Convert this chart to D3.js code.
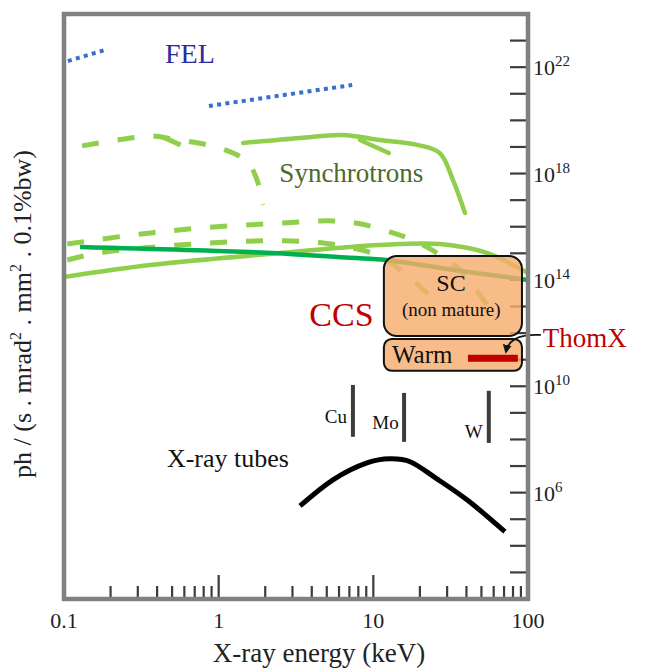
<!DOCTYPE html>
<html><head><meta charset="utf-8">
<script src="https://cdn.jsdelivr.net/npm/d3@7"></script>
<style>
html,body{margin:0;padding:0;background:#fff;}
svg text{font-family:"Liberation Serif","DejaVu Serif",serif;}
</style></head>
<body><svg id="c" width="646" height="670"></svg>
<script>
// ---- data: energy in keV, brightness as log10 exponent ----
const xTickLabels = ["0.1","1","10","100"];
const xTickValues = [0.1, 1, 10, 100];
const yTickExponents = [22, 18, 14, 10, 6];

const fel1E = [0.106, 0.192];
const fel1B = [22.23, 22.68];
const fel2E = [0.865, 7.3];
const fel2B = [20.54, 21.33];

const synTopDashE = [0.131, 0.220, 0.376, 0.499, 0.840, 1.24, 1.55, 1.77, 1.93];
const synTopDashB = [19.04, 19.26, 19.41, 19.30, 19.08, 18.77, 18.40, 17.76, 16.82];
const synHookE = [0.45, 0.605];
const synHookB = [19.34, 19.0];

const synTopSolidE = [1.44, 3.36, 6.36, 11.0, 19.2, 26.9, 32.7, 39.1];
const synTopSolidB = [19.15, 19.34, 19.45, 19.26, 19.08, 18.77, 17.76, 16.52];
const synBranchE = [8.19, 12.6];
const synBranchB = [19.26, 18.77];

const synDash1E = [0.105, 0.279, 0.757, 2.60, 5.48, 8.19, 13.4, 19.2, 26.9, 37.4, 54.2];
const synDash1B = [15.35, 15.69, 15.95, 16.14, 16.22, 16.11, 15.77, 15.43, 14.94, 14.30, 13.06];
const synDash2E = [0.105, 0.171, 0.879, 2.60, 4.72, 7.38, 11.0, 14.9, 22.2, 26.9];
const synDash2B = [14.75, 15.02, 15.39, 15.47, 15.39, 15.20, 14.90, 14.38, 13.51, 13.06];
const synSolidLowE = [0.1, 0.360, 2.60, 7.06, 14.9, 26.9, 54.2, 79.8, 100];
const synSolidLowB = [14.11, 14.56, 15.02, 15.24, 15.35, 15.35, 15.02, 14.56, 14.26];

const darkGreenE = [0.127, 2.05, 7.06, 12.1, 32.7, 88, 100];
const darkGreenB = [15.24, 15.02, 14.83, 14.75, 14.38, 14.04, 14.0];

const tubeE = [3.36, 5.48, 9.10, 12.8, 17.3, 24.3, 40.3, 70.9];
const tubeB = [5.50, 6.48, 7.12, 7.27, 7.16, 6.62, 5.73, 4.53];

const elementNames = ["Cu", "Mo", "W"];
const elementE = [7.38, 15.8, 55.8];
const elementTop = [10.05, 9.75, 9.83];
const elementBottom = [8.10, 7.91, 7.87];

const boxNames = ["SC", "Warm"];
const boxE0 = [11.7, 11.7];
const boxE1 = [91.4, 91.4];
const boxTop = [14.90, 11.78];
const boxBottom = [11.89, 10.58];

const thomxE = [40.9, 86.0];
const thomxB = 11.05;

// ---- layout ----
const svg = d3.select("#c");
const L = 64, R = 528, T = 14, B = 599;
const x = d3.scaleLog().domain([0.1, 100]).range([L, R]);
const y = d3.scaleLog().domain([1e2, 1e24]).range([B, T]);
const yl = v => y(Math.pow(10, v));
const pts = (E, Bv) => E.map((e, i) => [x(e), yl(Bv[i])]);
const line = d3.line().curve(d3.curveCatmullRom.alpha(0.5));
const smooth = d3.line().curve(d3.curveNatural);

const LIGHT = "#8fcf4c", DARK = "#00b050", BLUE = "#3a6fd2", RED = "#c00000";

// axis ticks (behind boxes)
const gt = svg.append("g").attr("stroke", "#3c3c3c").attr("stroke-width", 2.2);
for (let e = 3; e <= 23; e++) {
  gt.append("line").attr("x1", R - 18).attr("x2", R).attr("y1", yl(e)).attr("y2", yl(e));
}
for (let d = 0.1; d < 100; d *= 10) {
  for (let k = 2; k <= 10; k++) {
    const v = d * k;
    if (v >= 100) continue;
    const major = (k === 10);
    gt.append("line").attr("x1", x(v)).attr("x2", x(v)).attr("y1", B).attr("y2", B - (major ? 24 : 13));
  }
}

// FEL
[[fel1E, fel1B], [fel2E, fel2B]].forEach(([E, Bv]) => {
  svg.append("path").attr("d", line(pts(E, Bv))).attr("fill", "none")
    .attr("stroke", BLUE).attr("stroke-width", 4).attr("stroke-dasharray", "4,4.3");
});

// synchrotrons
const dashed = [[synTopDashE, synTopDashB], [synHookE, synHookB], [synDash1E, synDash1B], [synDash2E, synDash2B]];
dashed.forEach(([E, Bv]) => {
  svg.append("path").attr("d", line(pts(E, Bv))).attr("fill", "none")
    .attr("stroke", LIGHT).attr("stroke-width", 5).attr("stroke-dasharray", "17,19");
});
[[synTopSolidE, synTopSolidB], [synBranchE, synBranchB], [synSolidLowE, synSolidLowB]].forEach(([E, Bv]) => {
  svg.append("path").attr("d", line(pts(E, Bv))).attr("fill", "none")
    .attr("stroke", LIGHT).attr("stroke-width", 4.5).attr("stroke-linecap", "round");
});
svg.append("path").attr("d", line(pts(darkGreenE, darkGreenB))).attr("fill", "none")
  .attr("stroke", DARK).attr("stroke-width", 4.5);

// CCS boxes
boxNames.forEach((n, i) => {
  const x0 = x(boxE0[i]), x1 = x(boxE1[i]), y0 = yl(boxTop[i]), y1 = yl(boxBottom[i]);
  svg.append("rect").attr("x", x0).attr("y", y0).attr("width", x1 - x0).attr("height", y1 - y0)
    .attr("rx", i === 0 ? 13 : 8).attr("fill", "#f7ad6e").attr("fill-opacity", 0.82)
    .attr("stroke", "#111").attr("stroke-width", 2);
});
// ThomX bar
svg.append("line").attr("x1", x(thomxE[0])).attr("x2", x(thomxE[1]))
  .attr("y1", yl(thomxB)).attr("y2", yl(thomxB)).attr("stroke", RED).attr("stroke-width", 7);

// connector arrow
svg.append("defs").append("marker").attr("id", "ah").attr("viewBox", "0 0 10 10")
  .attr("refX", 8).attr("refY", 5).attr("markerWidth", 5).attr("markerHeight", 5)
  .attr("orient", "auto").append("path").attr("d", "M0,0 L10,5 L0,10 z").attr("fill", "#111");
const cs = [x(121), yl(11.93)], cc = [x(76), yl(12.0)], ce = [x(72), yl(11.29)];
svg.append("path").attr("d", `M${cs[0]},${cs[1]} Q${cc[0]},${cc[1]} ${ce[0]},${ce[1]}`)
  .attr("fill", "none").attr("stroke", "#111").attr("stroke-width", 1.8).attr("marker-end", "url(#ah)");

// element lines
elementNames.forEach((n, i) => {
  svg.append("line").attr("x1", x(elementE[i])).attr("x2", x(elementE[i]))
    .attr("y1", yl(elementTop[i])).attr("y2", yl(elementBottom[i]))
    .attr("stroke", "#3c3c3c").attr("stroke-width", 4);
});

// X-ray tubes
svg.append("path").attr("d", smooth(pts(tubeE, tubeB))).attr("fill", "none")
  .attr("stroke", "#000").attr("stroke-width", 5);

// text labels (positions in data coords)
const labels = [
  {t: "FEL", e: 0.652, b: 22.16, s: 28, c: "#2b2b9c", a: "middle"},
  {t: "Synchrotrons", e: 7.21, b: 17.68, s: 27, c: "#4a6a2a", a: "middle"},
  {t: "CCS", e: 6.22, b: 12.27, s: 34, c: RED, a: "middle"},
  {t: "SC", e: 31.8, b: 13.58, s: 24, c: "#111", a: "middle"},
  {t: "(non mature)", e: 31.9, b: 12.66, s: 19, c: "#111", a: "middle"},
  {t: "Warm", e: 20.7, b: 10.88, s: 25, c: "#111", a: "middle"},
  {t: "ThomX", e: 124.7, b: 11.48, s: 27, c: RED, a: "start"},
  {t: "Cu", e: 6.75, b: 8.62, s: 19, c: "#111", a: "end"},
  {t: "Mo", e: 14.6, b: 8.40, s: 19, c: "#111", a: "end"},
  {t: "W", e: 51.0, b: 8.06, s: 19, c: "#111", a: "end"},
  {t: "X-ray tubes", e: 1.148, b: 6.97, s: 26, c: "#111", a: "middle"}
];
labels.forEach(l => {
  svg.append("text").attr("x", x(l.e)).attr("y", yl(l.b)).attr("text-anchor", l.a)
    .attr("font-size", l.s).attr("fill", l.c).text(l.t);
});

// tick labels
xTickValues.forEach((v, i) => {
  svg.append("text").attr("x", x(v)).attr("y", 628).attr("text-anchor", "middle")
    .attr("font-size", 22).attr("fill", "#222").text(xTickLabels[i]);
});
yTickExponents.forEach(e => {
  const t = svg.append("text").attr("x", 533).attr("y", yl(e) + 8).attr("font-size", 22).attr("fill", "#222");
  t.append("tspan").text("10");
  t.append("tspan").attr("dy", -9).attr("font-size", 15).text(String(e));
});

// axis titles
svg.append("text").attr("x", 319).attr("y", 662).attr("text-anchor", "middle")
  .attr("font-size", 27).attr("fill", "#222").text("X-ray energy (keV)");
const yt = svg.append("text").attr("transform", "translate(31,314) rotate(-90)")
  .attr("text-anchor", "middle").attr("font-size", 26).attr("fill", "#222");
yt.append("tspan").text("ph / (s . mrad");
yt.append("tspan").attr("dy", -10).attr("font-size", 16).text("2");
yt.append("tspan").attr("dy", 10).text(" . mm");
yt.append("tspan").attr("dy", -10).attr("font-size", 16).text("2");
yt.append("tspan").attr("dy", 10).text(" . 0.1%bw)");

// frame
svg.append("rect").attr("x", L).attr("y", T).attr("width", R - L).attr("height", B - T)
  .attr("fill", "none").attr("stroke", "#808080").attr("stroke-width", 4.5);
</script></body></html>
